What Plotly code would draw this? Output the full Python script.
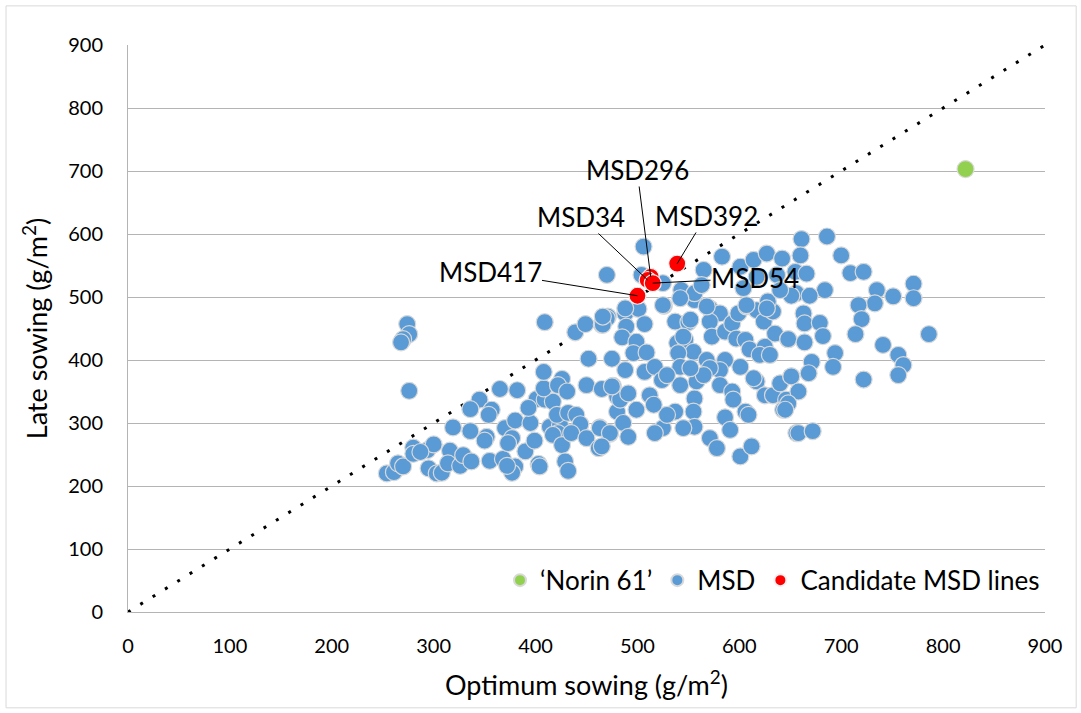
import plotly.graph_objects as go

# Grain yield per line under optimum vs late sowing (g/m2)
msd_optimum = [
    274, 276, 270, 268, 276,
    254, 261, 265, 270, 280, 280, 294, 300, 295, 303, 308, 316, 287, 314, 326,
    329, 337, 319, 336, 352, 350, 345, 336, 357, 354, 365, 382, 355, 368, 370,
    380, 377, 373, 380, 377, 372, 390, 395, 399, 403, 404, 401, 409, 417, 393,
    408, 408, 426, 422, 431, 414, 424, 421, 432, 440, 422, 417, 426, 429, 432,
    444, 435, 450, 462, 463, 473, 450, 465, 476, 480, 480, 409, 439, 449, 465,
    471, 452, 475,
    526, 470, 466, 488, 501, 507, 489, 485, 499, 496, 509, 488, 537, 550, 539,
    547, 555, 540, 556, 571, 581, 571, 573, 586, 593, 599, 607, 617, 624, 633,
    635, 648, 597, 606, 610, 625, 620, 630, 601, 586, 581, 568, 571, 581, 593,
    594, 606, 609, 586, 591, 571, 578, 601, 612, 617, 625, 633, 640, 651, 646,
    643, 656, 614, 556, 555, 556, 545, 537, 525, 517, 529, 512, 516, 499, 486,
    491, 483, 475, 491, 507, 517, 524, 542, 542, 558, 565, 529, 552, 463, 473,
    465, 545,
    506, 470, 504, 525, 543, 556, 565, 563, 583, 601, 614, 627, 637, 617, 604,
    628, 656, 466, 488, 525, 542, 552, 568, 607, 627,
    661, 686, 660, 642, 700, 655, 666, 709, 722, 684, 771, 771, 735, 751, 733,
    717, 720, 651, 669, 640, 663, 664, 679, 682, 714, 786, 648, 664, 741, 694,
    756, 761, 671, 692, 756, 722, 668, 651, 658, 648, 645, 658, 672,
]
msd_late = [
    457, 441, 433, 428, 351,
    220, 222, 236, 231, 261, 251, 257, 266, 228, 220, 221, 256, 254, 236, 232,
    249, 239, 293, 287, 278, 272, 337, 322, 321, 313, 354, 352, 240, 243, 292,
    304, 276, 268, 231, 221, 232, 255, 300, 272, 235, 231, 338, 337, 334, 324,
    355, 381, 370, 360, 350, 294, 297, 313, 316, 313, 284, 281, 265, 239, 224,
    298, 284, 276, 260, 293, 283, 360, 354, 359, 342, 318, 460, 444, 457, 456,
    469, 402, 402,
    486, 466, 456, 474, 481, 457, 453, 436, 429, 411, 412, 384, 461, 460, 427,
    432, 413, 411, 495, 482, 474, 461, 437, 445, 458, 474, 485, 479, 461, 477,
    442, 433, 434, 432, 417, 421, 408, 408, 389, 400, 384, 400, 387, 360, 350,
    337, 318, 313, 309, 289, 276, 260, 247, 263, 366, 344, 344, 363, 374, 337,
    321, 284, 371, 339, 318, 294, 292, 318, 292, 284, 313, 344, 329, 321, 300,
    278, 337, 358, 347, 381, 389, 368, 360, 389, 366, 376, 376, 387, 292, 284,
    263, 437,
    580, 535, 535, 522, 511, 506, 543, 519, 564, 548, 559, 569, 535, 532, 514,
    493, 506, 469, 482, 487, 498, 464, 485, 487, 482,
    592, 596, 566, 561, 566, 540, 537, 538, 540, 511, 521, 498, 511, 501, 490,
    487, 465, 502, 502, 511, 474, 458, 459, 438, 441, 441, 433, 428, 424, 411,
    408, 392, 397, 389, 376, 369, 379, 374, 350, 331, 321, 284, 287,
]

norin_optimum = [822]
norin_late = [703]

candidate_names = ["MSD296", "MSD34", "MSD392", "MSD417", "MSD54"]
candidate_optimum = [513, 510, 539, 500, 515]
candidate_late = [532, 527, 553, 502, 522]
# where each candidate's name is written (data units)
label_x = [499.6, 444.6, 567.3, 355.3, 615.4]
label_y = [701.6, 627.0, 628.6, 539.7, 530.2]

axis_ticks = [0, 100, 200, 300, 400, 500, 600, 700, 800, 900]

FONT = "Lato, 'Open Sans', sans-serif"
BLUE = "#5B9BD5"
RED = "#FF0000"
GREEN = "#92D050"
GRID = "#B4B4B4"

fig = go.Figure()

# 1:1 reference line
fig.add_trace(go.Scatter(
    x=[axis_ticks[0], axis_ticks[-1]], y=[axis_ticks[0], axis_ticks[-1]],
    mode="lines", line=dict(color="black", width=3, dash="3px,11.5px"),
    showlegend=False, hoverinfo="skip",
))

fig.add_trace(go.Scatter(
    x=msd_optimum, y=msd_late, mode="markers", name="MSD", legendrank=2,
    marker=dict(color=BLUE, size=17, line=dict(color="#D9D9D9", width=1.2)),
))
fig.add_trace(go.Scatter(
    x=norin_optimum, y=norin_late, mode="markers", name="\u2018Norin 61\u2019",
    legendrank=1,
    marker=dict(color=GREEN, size=17, line=dict(color="#D9D9D9", width=1.2)),
))
fig.add_trace(go.Scatter(
    x=candidate_optimum, y=candidate_late, mode="markers",
    name="Candidate MSD lines", legendrank=3, text=candidate_names,
    marker=dict(color=RED, size=17, line=dict(color="#F2F2F2", width=1.2)),
))

for name, px_, py_, lx, ly in zip(candidate_names, candidate_optimum,
                                  candidate_late, label_x, label_y):
    fig.add_annotation(
        x=px_, y=py_, xref="x", yref="y", ax=lx, ay=ly, axref="x", ayref="y",
        text=name, showarrow=True, arrowhead=0, arrowwidth=1,
        arrowcolor="black", standoff=0, borderpad=0,
        font=dict(family=FONT, size=26, color="black"),
    )

# outer chart frame
fig.add_shape(type="rect", xref="paper", yref="paper",
              x0=-0.133, x1=1.034, y0=-0.169, y1=1.069,
              line=dict(color="#D9D9D9", width=1), layer="below")

fig.update_layout(
    width=1081, height=713,
    margin=dict(l=128, r=36, t=45, b=101),
    paper_bgcolor="white", plot_bgcolor="white",
    font=dict(family=FONT, color="black"),
    showlegend=True,
    legend=dict(orientation="h", x=1.0, xanchor="right", y=0.056,
                yanchor="middle", font=dict(family=FONT, size=26),
                bgcolor="rgba(0,0,0,0)", itemsizing="constant",
                traceorder="normal"),
    xaxis=dict(
        range=[0, 900], tickvals=axis_ticks, showgrid=False, zeroline=False,
        showline=True, linecolor=GRID, linewidth=1, ticks="",
        ticklabelstandoff=16, tickfont=dict(family=FONT, size=20),
        title=dict(text="Optimum sowing (g/m<sup>2</sup>)", standoff=20,
                   font=dict(family=FONT, size=27)),
    ),
    yaxis=dict(
        range=[0, 900], tickvals=axis_ticks, showgrid=True, gridcolor=GRID,
        gridwidth=1, zeroline=False, showline=True, linecolor=GRID,
        linewidth=1, ticks="", ticklabelstandoff=20,
        tickfont=dict(family=FONT, size=20),
        title=dict(text="Late sowing (g/m<sup>2</sup>)", standoff=12,
                   font=dict(family=FONT, size=27)),
    ),
)

fig.write_html("out.html")
